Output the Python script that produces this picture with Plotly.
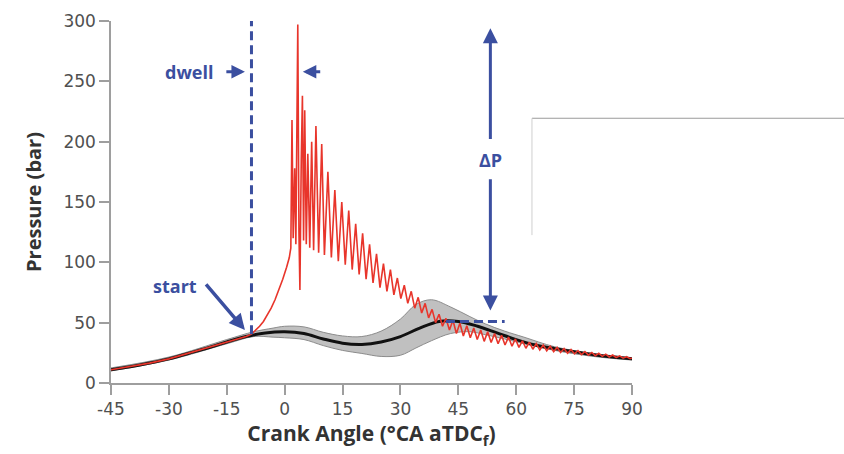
import plotly.graph_objects as go

# ---------------- data ----------------
x_ticks = [-45, -30, -15, 0, 15, 30, 45, 60, 75, 90]
y_ticks = [0, 50, 100, 150, 200, 250, 300]

mean_deg = [-45, -40, -35, -30, -25, -20, -15, -10, -5, 0, 5, 10, 15, 20, 25, 30, 35, 40, 45, 50, 55, 60, 65, 70, 75, 80, 85, 90]
mean_bar = [11, 13.5, 16.5, 20, 24.5, 29, 34, 38.5, 41.5, 42.5, 41, 36.5, 33, 32, 34, 38.5, 45.5, 51, 51, 47, 41.5, 36, 31.5, 28.5, 26, 23.5, 21.5, 20]

band_deg = [-45, -30, -15, -8, -3, 0, 5, 10, 15, 20, 25, 30, 34, 38, 43, 48, 52, 57, 62, 70, 80, 90]
band_low = [10, 19, 32.5, 38.5, 38, 37.5, 36, 31, 27, 24.5, 22, 23, 29, 35, 41, 42.5, 40, 36.5, 32.5, 27, 22, 19]
band_up = [12.5, 21.5, 36, 42.5, 45.5, 47, 46.5, 42, 39, 38.5, 43, 53, 65, 69, 63, 55, 49, 43, 38, 30, 24.5, 21]

red_deg = [-45, -40, -35, -30, -25, -20, -15, -10, -8.6, -7.5, -6.5, -5.5, -4.5, -3.5, -2.5, -1.5, -0.5, 0.5, 1.2, 1.6,
           1.9, 2.2, 2.6, 2.9, 3.2, 3.4, 3.7, 3.95, 4.3, 4.6, 4.9, 5.2, 5.6, 6.0, 6.5, 7.0, 7.5, 8.1, 8.8, 9.6,
           10.3, 11.2, 12.1, 13.0, 13.9, 14.8, 15.7, 16.6, 17.5, 18.4, 19.3, 20.2, 21.1, 22.0, 22.9, 23.8, 24.7, 25.6,
           26.5, 27.4, 28.3, 29.2, 30.1, 31.0, 31.9, 32.8, 33.7, 34.6, 35.5, 36.4, 37.3, 38.2, 39.1, 40.0, 40.9, 41.8,
           42.7, 43.6, 44.5, 45.4, 46.3, 47.2, 48.1, 49.0, 49.9, 50.8, 51.7, 52.6, 53.5, 54.4, 55.3, 56.2, 57.1, 58.0,
           58.9, 59.8, 60.7, 61.6, 62.5, 63.4, 64.3, 65.2, 66.1, 67.0, 67.9, 68.8, 69.7, 70.6, 71.5, 72.4, 73.3, 74.2,
           75.1, 76.0, 76.9, 77.8, 78.7, 79.6, 80.5, 81.4, 82.3, 83.2, 84.1, 85.0, 85.9, 86.8, 87.7, 88.6, 89.5, 90.0]
red_bar = [11, 13.5, 16.5, 20, 24.5, 29, 34, 38.5, 40.5, 43.5, 47, 51, 56, 62, 69, 77, 86, 96, 104, 112,
           218, 120, 178, 115, 230, 297, 125, 77, 185, 238, 118, 226, 115, 190, 112, 200, 110, 213, 108, 198,
           106, 175, 104, 160, 101, 150, 98, 143, 94, 132, 90, 124, 86, 115, 83, 107, 79, 99,
           76, 94, 73, 87, 70, 81, 66, 76, 62, 71, 58, 66, 54, 61, 50, 57, 47, 53.5,
           44, 52, 41, 49.5, 39, 47.5, 37.5, 45.5, 36, 44, 34.5, 42.5, 33.5, 41, 32.5, 39.5, 31.5, 38,
           30.5, 36.5, 29.5, 35, 28.8, 33.8, 28, 32.6, 27.3, 31.5, 26.6, 30.5, 26, 29.5, 25.3, 28.6, 24.7, 27.7,
           24.1, 26.9, 23.6, 26.1, 23.1, 25.3, 22.6, 24.6, 22.1, 23.9, 21.6, 23.2, 21.1, 22.5, 20.6, 21.8, 20.2, 20.8]

# annotation geometry (data units)
start_deg, start_bar = -8.6, 40.5
dwell_top = 300
peak_line_deg = [3.9, 57]
peak_line_bar = [302, 302]
min_line_deg = [41.8, 57]
min_line_bar = [51, 51]
dp_deg = 53.3

BLUE = "#3b4fa0"
RED = "#e8352b"

fig = go.Figure()

fig.add_trace(go.Scatter(x=band_deg, y=band_low, mode="lines",
                         line=dict(color="#8c8c8c", width=1, shape="spline"), hoverinfo="skip", showlegend=False))
fig.add_trace(go.Scatter(x=band_deg, y=band_up, mode="lines", fill="tonexty", fillcolor="#c0c0c0",
                         line=dict(color="#8c8c8c", width=1, shape="spline"), hoverinfo="skip", showlegend=False))
fig.add_trace(go.Scatter(x=mean_deg, y=mean_bar, mode="lines",
                         line=dict(color="#111111", width=3, shape="spline"), showlegend=False))
fig.add_trace(go.Scatter(x=red_deg, y=red_bar, mode="lines",
                         line=dict(color=RED, width=1.6), showlegend=False))

dash = "9px,5px"
fig.add_trace(go.Scatter(x=[start_deg, start_deg], y=[start_bar, dwell_top], mode="lines", cliponaxis=False,
                         line=dict(color=BLUE, width=3, dash=dash), showlegend=False))
fig.add_trace(go.Scatter(x=peak_line_deg, y=peak_line_bar, mode="lines", cliponaxis=False,
                         line=dict(color=BLUE, width=3, dash=dash), showlegend=False))
fig.add_trace(go.Scatter(x=min_line_deg, y=min_line_bar, mode="lines", cliponaxis=False,
                         line=dict(color=BLUE, width=3, dash=dash), showlegend=False))

def arrow(x, y, ax, ay, w=3, size=1.0):
    fig.add_annotation(x=x, y=y, ax=ax, ay=ay, xref="x", yref="y", axref="x", ayref="y",
                       text="", showarrow=True, arrowhead=2, arrowsize=size, arrowwidth=w,
                       arrowcolor=BLUE, standoff=0, startstandoff=0)

arrow(-10.3, 258, -15.5, 258, w=3, size=0.9)
arrow(4.7, 258, 9.6, 258, w=3, size=0.9)
arrow(-10.3, 44, -20.7, 83, w=3.5, size=0.9)
arrow(dp_deg, 294, dp_deg, 201, w=3, size=1.0)
arrow(dp_deg, 60, dp_deg, 170, w=3, size=1.0)

font_ann = dict(family="Open Sans, Arial", size=18, color=BLUE)
fig.add_annotation(x=-24.8, y=257.5, text="<b>dwell</b>", showarrow=False, font=font_ann)
fig.add_annotation(x=-28.4, y=80, text="<b>start</b>", showarrow=False, font=font_ann)
fig.add_annotation(x=dp_deg, y=185, text="<b>ΔP</b>", showarrow=False, font=font_ann)

# stray frame lines at right of the picture
fig.add_shape(type="line", xref="paper", yref="paper", x0=0.808, x1=1.41, y0=0.7314, y1=0.7314,
              line=dict(color="#9a9a9a", width=1.2))
fig.add_shape(type="line", xref="paper", yref="paper", x0=0.808, x1=0.808, y0=0.4085, y1=0.7314,
              line=dict(color="#cfcfcf", width=1))

axis_common = dict(showline=True, linecolor="#9e9e9e", linewidth=1.5, ticks="outside", ticklen=10,
                   tickcolor="#9e9e9e", tickwidth=1.5, showgrid=False, zeroline=False,
                   tickfont=dict(family="DejaVu Sans, Open Sans", size=17, color="#505050"))

fig.update_layout(
    width=844, height=454, margin=dict(l=111, r=212, t=21, b=71),
    paper_bgcolor="white", plot_bgcolor="white", showlegend=False,
    xaxis=dict(range=[-45, 90], tickvals=x_ticks, ticktext=[str(v) for v in x_ticks],
               title=dict(text="<b>Crank Angle (°CA aTDC<sub>f</sub>)</b>", standoff=6,
                          font=dict(family="Open Sans, Arial", size=21, color="#333333")),
               **axis_common),
    yaxis=dict(range=[0, 300], tickvals=y_ticks, ticktext=[str(v) for v in y_ticks],
               title=dict(text="<b>Pressure (bar)</b>", standoff=16,
                          font=dict(family="Open Sans, Arial", size=20, color="#333333")),
               **axis_common),
)

fig.write_html("out.html")
